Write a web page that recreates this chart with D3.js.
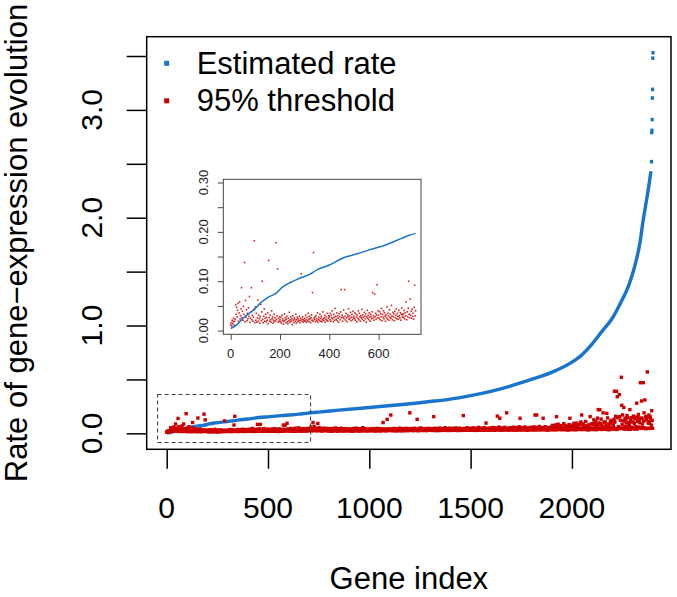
<!DOCTYPE html>
<html><head><meta charset="utf-8">
<script src="https://cdn.jsdelivr.net/npm/d3@7"></script>
<style>
html,body{margin:0;padding:0;background:#fff;}
svg{display:block;font-family:"Liberation Sans",Arial,Helvetica,sans-serif;}
</style></head>
<body><svg id="chart" width="677" height="597"></svg>
<script>
// ---- Data ----
// Estimated rate (genes sorted by rate): gene index knots and values
const rateIdx = [0,25,50,75,100,125,150,185,210,240,280,320,350,400,455,510,565,620,670,725,750,
  850,1000,1150,1300,1400,1500,1600,1700,1800,1900,2000,2050,2100,2150,2200,2240,2280,2310,2335,2352,2368,2380,2390];
const rateVal = [0.004,0.012,0.025,0.035,0.045,0.058,0.067,0.076,0.088,0.097,0.106,0.114,0.123,0.133,0.147,0.155,0.164,0.172,0.182,0.193,0.197,
  0.215,0.24,0.265,0.295,0.318,0.35,0.39,0.44,0.50,0.565,0.66,0.73,0.83,0.95,1.07,1.21,1.37,1.55,1.76,1.98,2.16,2.30,2.43];
// isolated top values
const tailIdx = [2393,2394,2395,2396,2397,2398,2399,2400];
const tailVal = [2.52,2.79,2.81,2.91,3.11,3.19,3.48,3.53];

// 95% threshold, one value every 2 genes (in units of 0.001)
const thresholdStep = 2;
const thresholdMilli = [
12,16,9,21,14,18,25,11,19,23,52,33,47,28,41,55,19,36,58,24,30,44,87,26,39,21,49,33,138,18,61,27,42,20,35,24,46,29,69,17,25,38,87,22,31,19,27,43,182,16,
48,21,35,17,26,62,19,31,24,15,28,53,20,38,100,23,16,29,44,19,25,33,18,27,21,36,14,142,26,19,31,22,17,40,24,28,15,21,33,18,26,20,178,23,30,125,17,25,19,28,
22,18,27,15,31,20,24,13,19,34,21,26,16,23,29,18,14,25,20,37,17,22,28,19,24,12,30,21,16,26,23,19,33,15,22,27,18,24,20,29,16,21,25,115,19,23,28,17,22,20,
25,19,31,22,17,27,20,35,23,18,29,24,16,26,32,21,77,19,158,25,22,28,18,30,24,20,36,17,23,27,21,33,19,25,29,18,22,38,24,20,26,31,17,23,28,21,35,19,25,30,
28,22,35,19,31,26,40,24,18,33,27,21,45,29,23,36,20,30,25,17,34,28,22,38,83,26,31,19,27,42,24,83,29,21,35,26,18,32,28,44,23,30,25,37,20,27,33,22,39,26,
29,24,36,21,33,27,18,31,25,40,22,35,28,19,30,26,43,23,32,27,20,37,29,24,34,17,28,41,25,31,22,36,27,19,33,29,24,38,77,26,30,21,74,28,35,23,32,93,26,40,
31,25,38,22,34,28,45,20,33,27,40,24,36,29,19,32,26,48,23,35,30,21,42,27,33,25,51,29,22,37,28,34,20,39,26,31,44,24,35,29,23,41,30,26,36,21,33,46,27,32,
34,27,41,24,36,30,58,22,38,28,45,100,33,26,64,31,39,25,43,29,35,23,47,92,30,40,27,52,33,24,37,29,44,21,35,31,26,48,32,38,25,41,30,34,27,46,33,22,39,29,
30,24,42,27,35,19,38,31,26,45,28,33,22,40,29,36,25,50,31,27,34,20,39,30,26,43,32,24,37,28,47,23,35,29,41,26,33,21,38,30,27,44,32,25,36,29,23,40,31,35,
28,36,23,41,30,26,34,19,39,32,25,45,29,35,27,22,38,31,48,26,33,28,40,24,36,30,21,43,32,27,37,25,34,29,52,23,31,38,26,35,30,42,24,33,28,39,22,36,31,27,
32,26,39,29,35,23,44,30,27,37,31,25,42,28,34,21,38,33,26,46,29,36,24,40,31,27,35,22,43,30,28,37,25,33,100,29,41,26,34,30,23,39,32,27,130,31,36,25,42,28,
34,29,41,170,27,36,31,24,39,33,28,45,30,26,37,32,22,43,29,35,31,27,40,25,34,48,30,36,23,38,32,28,44,26,35,30,41,24,37,33,29,46,31,27,39,34,25,42,30,36,
190,31,38,27,44,33,29,36,25,41,32,28,47,30,35,26,39,33,130,29,37,24,42,31,34,28,50,32,27,38,35,30,45,26,36,29,40,33,28,43,31,37,25,39,34,29,46,32,36,30,
33,28,41,35,30,44,27,38,32,155,36,29,47,31,25,40,34,30,43,28,37,33,26,49,31,39,35,29,42,30,27,45,34,38,31,36,28,52,33,40,29,35,44,32,26,39,34,30,48,37,
35,30,42,27,38,33,46,31,36,29,41,34,28,50,32,37,30,44,26,39,35,31,48,33,29,40,36,27,43,32,38,30,165,34,45,28,37,33,41,30,36,52,29,39,34,31,47,35,28,42,
36,31,45,28,40,34,51,30,38,33,43,27,37,32,48,35,29,41,36,31,55,33,39,28,44,35,30,47,37,32,42,29,38,34,53,31,36,40,95,33,39,30,46,35,28,42,37,33,49,36,
38,33,47,30,42,36,54,32,40,35,45,29,39,34,50,37,160,43,38,33,58,35,140,30,46,37,32,49,39,34,44,31,40,36,56,33,38,42,35,190,41,32,48,37,30,44,39,35,51,38,
40,34,49,31,44,38,57,33,42,36,47,30,41,35,53,39,33,45,40,34,61,36,140,32,48,39,34,51,41,35,46,32,42,38,59,34,40,44,37,29,43,33,50,38,31,46,41,36,55,40,
42,35,51,32,46,39,60,34,44,170,49,31,43,170,55,40,34,47,42,35,64,37,45,33,50,41,35,53,43,140,48,33,44,39,62,35,41,46,38,30,45,34,52,39,32,48,43,37,58,41,
44,36,73,33,48,61,63,35,46,78,51,32,155,37,57,42,85,49,44,36,67,38,47,34,72,43,36,55,45,39,90,34,46,40,65,36,43,68,39,31,47,35,54,81,33,140,44,38,60,43,
46,37,76,34,51,93,68,36,48,40,74,33,95,39,60,44,37,82,47,38,82,40,105,35,170,45,38,58,87,41,53,35,64,42,110,38,45,70,41,32,49,78,57,43,34,155,46,40,88,45,
48,39,82,35,125,45,95,37,51,112,80,34,48,141,66,220,39,96,50,220,90,42,132,36,73,47,40,190,49,103,58,37,105,44,77,40,185,53,143,34,52,88,63,46,35,110,49,120,96,47,
52,91,75,38,130,390,104,40,158,46,390,36,340,145,150,62,43,360,155,48,120,47,520,260,82,171,44,115,240,39,64,140,58,128,96,42,165,57,146,37,88,101,70,220,38,125,54,145,107,50,
55,104,160,40,92,148,135,42,63,150,280,39,112,147,175,58,125,98,52,470,140,46,300,141,86,53,470,114,190,49,310,43,150,156,125,47,570,151,96,45,170,92,108,154,140,48,76,210,120,47
];

// Axis ticks / labels
const xTicks = [0,500,1000,1500,2000];
const yTicks = [0,0.5,1,1.5,2,2.5,3,3.5];
const yLabels = [0,1,2,3];
const insetXTicks = [0,200,400,600];
const insetYTicks = [0,0.05,0.1,0.15,0.2,0.25,0.3];
const insetYLabels = [0,0.1,0.2,0.3];
const insetMaxIdx = 750;
const zoomBox = {x0:-45, x1:710, y0:-0.085, y1:0.36};

const legendLabels = ["Estimated rate","95% threshold"];
const BLUE = "#1874CD", RED = "#CD0000";

// ---- Build ----
const rate = rateIdx.map((d,i)=>({x:d,y:rateVal[i]}));
const tail = tailIdx.map((d,i)=>({x:d,y:tailVal[i]}));
const thr = thresholdMilli.map((v,i)=>({x:i*thresholdStep,y:v/1000}));

const svg = d3.select("#chart");
const FONT = 30;

const x = d3.scaleLinear().domain([-98.7,2489]).range([146.7,671]);
const y = d3.scaleLinear().domain([-0.148,3.679]).range([449.3,36.7]);

// points & lines (main)
const line = d3.line().x(d=>x(d.x)).y(d=>y(d.y)).curve(d3.curveMonotoneX);
svg.append("path").datum(rate).attr("d",line).attr("fill","none")
  .attr("stroke",BLUE).attr("stroke-width",3.4);
svg.append("g").selectAll("rect").data(tail).join("rect")
  .attr("x",d=>x(d.x)-1.6).attr("y",d=>y(d.y)-1.8).attr("width",3.2).attr("height",3.6).attr("fill",BLUE);
svg.append("g").selectAll("rect").data(thr).join("rect")
  .attr("x",d=>x(d.x)-1.7).attr("y",d=>y(d.y)-1.7).attr("width",3.4).attr("height",3.4).attr("fill",RED);

// dashed zoom rectangle
svg.append("rect").attr("x",x(zoomBox.x0)).attr("y",y(zoomBox.y1))
  .attr("width",x(zoomBox.x1)-x(zoomBox.x0)).attr("height",y(zoomBox.y0)-y(zoomBox.y1))
  .attr("fill","none").attr("stroke","#444").attr("stroke-width",1.1).attr("stroke-dasharray","4,3");

// main box
svg.append("rect").attr("x",146.7).attr("y",36.7).attr("width",671-146.7).attr("height",449.3-36.7)
  .attr("fill","none").attr("stroke","#000").attr("stroke-width",1.5);

// main axes ticks
const gx = svg.append("g").attr("transform","translate(0,449.3)")
  .call(d3.axisBottom(x).tickValues(xTicks).tickSize(19.5).tickFormat(""));
gx.select(".domain").remove();
gx.selectAll("line").attr("stroke","#000").attr("stroke-width",1.5);
const gy = svg.append("g").attr("transform","translate(146.7,0)")
  .call(d3.axisLeft(y).tickValues(yTicks).tickSize(20).tickFormat(""));
gy.select(".domain").remove();
gy.selectAll("line").attr("stroke","#000").attr("stroke-width",1.5);

svg.append("g").selectAll("text").data(xTicks).join("text")
  .attr("x",d=>x(d)).attr("y",518).attr("text-anchor","middle")
  .attr("font-size",FONT).text(d=>d);
svg.append("g").selectAll("text").data(yLabels).join("text")
  .attr("transform",d=>`translate(102,${y(d)}) rotate(-90)`).attr("text-anchor","middle")
  .attr("font-size",FONT).text(d=>d3.format(".1f")(d));

svg.append("text").attr("x",(146.7+671)/2).attr("y",589).attr("text-anchor","middle")
  .attr("font-size",31).text("Gene index");
svg.append("text").attr("transform",`translate(27,${(36.7+449.3)/2}) rotate(-90)`)
  .attr("text-anchor","middle").attr("font-size",31).text("Rate of gene\u2212expression evolution");

// legend
const leg = svg.append("g");
[BLUE,RED].forEach((c,i)=>{
  const cy = 63.3 + i*37.5;
  leg.append("rect").attr("x",164.2).attr("y",cy-2.5).attr("width",5).attr("height",5).attr("fill",c);
  leg.append("text").attr("x",196.7).attr("y",cy+10.5).attr("font-size",31).text(legendLabels[i]);
});

// ---- Inset ----
const ix = d3.scaleLinear().domain([-30,772]).range([223.3,421]);
const iy = d3.scaleLinear().domain([-0.0075,0.3065]).range([334.3,179.3]);
svg.append("rect").attr("x",223.3).attr("y",179.3).attr("width",421-223.3).attr("height",334.3-179.3)
  .attr("fill","#fff");
const inThr = thr.filter(d=>d.x<=insetMaxIdx);
svg.append("g").selectAll("rect").data(inThr).join("rect")
  .attr("x",d=>ix(d.x)-0.8).attr("y",d=>iy(d.y)-0.8).attr("width",1.6).attr("height",1.6)
  .attr("fill",RED).attr("opacity",0.85);
const iline = d3.line().x(d=>ix(d.x)).y(d=>iy(d.y)).curve(d3.curveMonotoneX);
svg.append("path").datum(rate.filter(d=>d.x<=insetMaxIdx)).attr("d",iline)
  .attr("fill","none").attr("stroke",BLUE).attr("stroke-width",1.5);
svg.append("rect").attr("x",223.3).attr("y",179.3).attr("width",421-223.3).attr("height",334.3-179.3)
  .attr("fill","none").attr("stroke","#444").attr("stroke-width",1);

const igx = svg.append("g").attr("transform","translate(0,334.3)")
  .call(d3.axisBottom(ix).tickValues(insetXTicks).tickSize(5.5).tickFormat(""));
igx.select(".domain").remove();
igx.selectAll("line").attr("stroke","#444");
const igy = svg.append("g").attr("transform","translate(223.3,0)")
  .call(d3.axisLeft(iy).tickValues(insetYTicks).tickSize(5.5).tickFormat(""));
igy.select(".domain").remove();
igy.selectAll("line").attr("stroke","#444");
svg.append("g").selectAll("text").data(insetXTicks).join("text")
  .attr("x",d=>ix(d)).attr("y",358).attr("text-anchor","middle").attr("font-size",13).attr("fill","#222").text(d=>d);
svg.append("g").selectAll("text").data(insetYLabels).join("text")
  .attr("transform",d=>`translate(208,${iy(d)}) rotate(-90)`).attr("text-anchor","middle")
  .attr("font-size",13).attr("fill","#222").text(d=>d3.format(".2f")(d));
</script></body></html>
